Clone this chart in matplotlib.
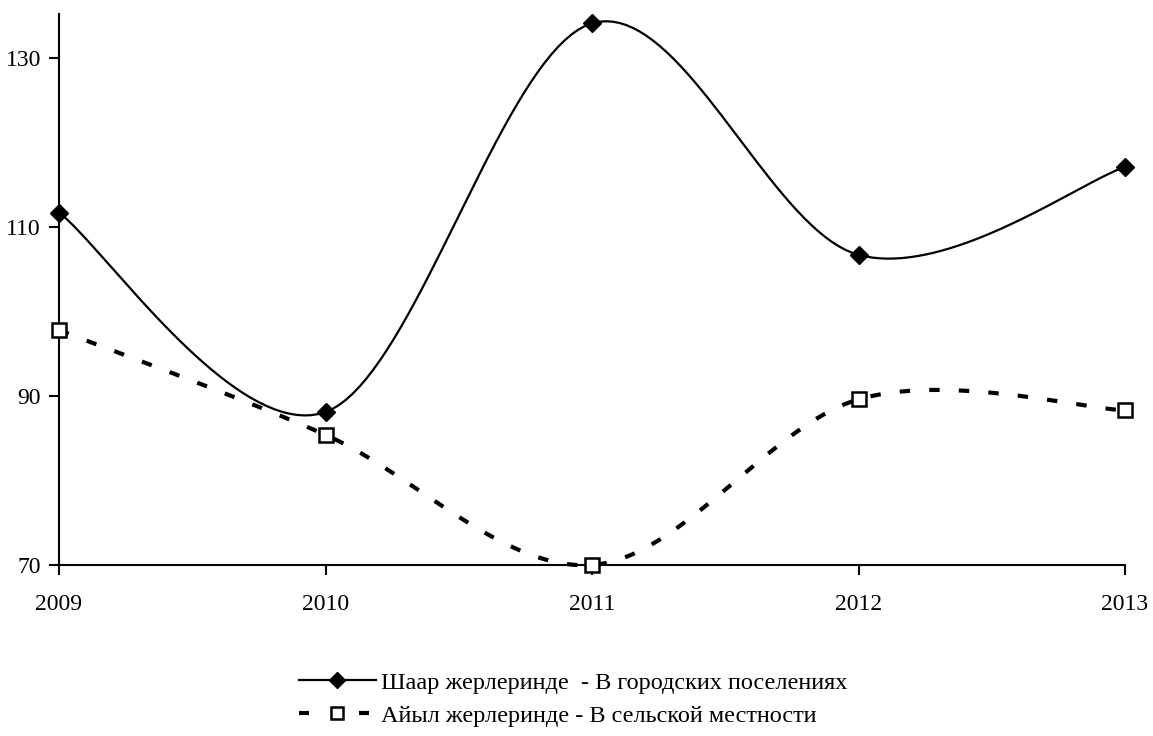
import numpy as np
import matplotlib
matplotlib.use("Agg")
import matplotlib.pyplot as plt
from matplotlib.lines import Line2D

# ==================== Data ====================
years = [2009, 2010, 2011, 2012, 2013]
urban = [111.7, 88.1, 134.1, 106.7, 117.1]
rural = [97.8, 85.4, 70.0, 89.6, 88.3]
urban_label = "Шаар жерлеринде  - В городских поселениях"
rural_label = "Айыл жерлеринде - В сельской местности"
y_ticks = [70, 90, 110, 130]
# ==============================================


def smooth(xs, ys, steps=40):
    """Catmull-Rom style smoothing like spreadsheet 'smoothed line'"""
    xs = np.asarray(xs, float)
    ys = np.asarray(ys, float)
    px = np.concatenate([[xs[0]], xs, [xs[-1]]])
    py = np.concatenate([[ys[0]], ys, [ys[-1]]])
    out_x, out_y = [], []
    t = np.linspace(0, 1, steps)
    for i in range(1, len(px) - 2):
        p0x, p1x, p2x, p3x = px[i - 1:i + 3]
        p0y, p1y, p2y, p3y = py[i - 1:i + 3]
        c1x = p1x + (p2x - p0x) / 6
        c1y = p1y + (p2y - p0y) / 6
        c2x = p2x - (p3x - p1x) / 6
        c2y = p2y - (p3y - p1y) / 6
        bx = (1 - t) ** 3 * p1x + 3 * (1 - t) ** 2 * t * c1x + 3 * (1 - t) * t ** 2 * c2x + t ** 3 * p2x
        by = (1 - t) ** 3 * p1y + 3 * (1 - t) ** 2 * t * c1y + 3 * (1 - t) * t ** 2 * c2y + t ** 3 * p2y
        out_x.extend(bx)
        out_y.extend(by)
    return np.array(out_x), np.array(out_y)


plt.rcParams['font.family'] = ['Liberation Serif', 'DejaVu Serif']

fig = plt.figure(figsize=(11.53, 7.36), dpi=100)
ax = fig.add_axes([59 / 1153, 1 - 565 / 736, (1125 - 59) / 1153, (565 - 14) / 736])

ux, uy = smooth(years, urban)
rx, ry = smooth(years, rural)

ax.plot(ux, uy, color='black', lw=1.6, clip_on=False, zorder=2)
ax.plot(years, urban, ls='none', marker='D', ms=9.5, color='black', clip_on=False, zorder=3)

ax.plot(rx, ry, color='black', lw=3, dashes=(2.5, 4.6), clip_on=False, zorder=2)
ax.plot(years, rural, ls='none', marker='s', ms=10, mfc='white', mec='black', mew=1.8,
        clip_on=False, zorder=3)

ax.set_xlim(2009, 2013)
ax.set_ylim(70, 135.2)
ax.set_xticks(years)
ax.set_yticks(y_ticks)
for s in ['top', 'right']:
    ax.spines[s].set_visible(False)
for s in ['left', 'bottom']:
    ax.spines[s].set_linewidth(1.5)
ax.tick_params(axis='both', direction='out', length=7, width=1.5, labelsize=17)
ax.tick_params(axis='x', pad=14)
ax.tick_params(axis='y', pad=6)

# legend handles
h1 = Line2D([], [], color='black', lw=1.6, marker='D', ms=8)
h2 = Line2D([], [], color='black', lw=3, dashes=(2.4, 12), marker='s', ms=9,
            mfc='white', mec='black', mew=1.8)
fig.legend([h1, h2], [urban_label, rural_label], loc='upper left',
           bbox_to_anchor=(0.24, 1 - 650 / 736), frameon=False, fontsize=17.5,
           handlelength=3.2, handletextpad=0.2, labelspacing=0.45)

fig.savefig('out.png', dpi=100)
